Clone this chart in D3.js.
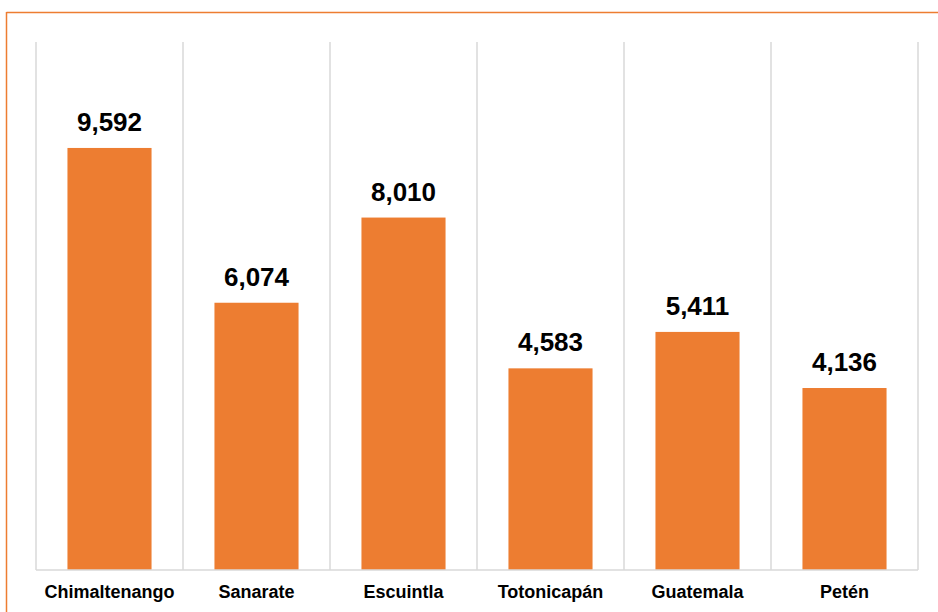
<!DOCTYPE html>
<html>
<head>
<meta charset="utf-8">
<script src="https://cdn.jsdelivr.net/npm/d3@7"></script>
<style>
  html, body { margin: 0; padding: 0; background: #fff; }
  svg { display: block; }
</style>
</head>
<body>
<svg id="chart" width="938" height="612"></svg>
<script>
const categories = ["Chimaltenango", "Sanarate", "Escuintla", "Totonicapán", "Guatemala", "Petén"];
const values = [9592, 6074, 8010, 4583, 5411, 4136];
const yDomain = [0, 12000];

(function () {
const svg = d3.select("#chart");
const W = 938, H = 612;
const pLeft = 36, pRight = 918, pTop = 42, pBottom = 570;

// outer orange frame (top and left visible)
svg.append("line").attr("x1", 6.5).attr("x2", W).attr("y1", 12.5).attr("y2", 12.5)
  .attr("stroke", "#ED7D31").attr("stroke-width", 1.5);
svg.append("line").attr("x1", 6.5).attr("x2", 6.5).attr("y1", 12).attr("y2", H)
  .attr("stroke", "#ED7D31").attr("stroke-width", 1.5);

const x = d3.scaleBand().domain(categories).range([pLeft, pRight]).paddingInner(0).paddingOuter(0);
const y = d3.scaleLinear().domain(yDomain).range([pBottom, pTop]);

// vertical category separators
const seps = categories.map(c => x(c)).concat([pRight]);
svg.append("g").selectAll("line").data(seps).join("line")
  .attr("x1", d => d).attr("x2", d => d)
  .attr("y1", pTop).attr("y2", pBottom)
  .attr("stroke", "#d9d9d9").attr("stroke-width", 1.5);

// bars
const bw = x.bandwidth() * 0.572;
svg.append("g").selectAll("rect").data(categories).join("rect")
  .attr("x", (d) => x(d) + (x.bandwidth() - bw) / 2)
  .attr("width", bw)
  .attr("y", (d, i) => y(values[i]))
  .attr("height", (d, i) => y(0) - y(values[i]))
  .attr("fill", "#ED7D31");

// baseline
svg.append("line").attr("x1", pLeft).attr("x2", pRight).attr("y1", pBottom).attr("y2", pBottom)
  .attr("stroke", "#d9d9d9").attr("stroke-width", 1.5);

// value labels
const fmt = d3.format(",");
svg.append("g").selectAll("text").data(categories).join("text")
  .attr("x", d => x(d) + x.bandwidth() / 2)
  .attr("y", (d, i) => y(values[i]) - 17)
  .attr("text-anchor", "middle")
  .attr("font-family", "Liberation Sans, Arial, sans-serif")
  .attr("font-weight", "bold")
  .attr("font-size", "26px")
  .attr("fill", "#000")
  .text((d, i) => fmt(values[i]));

// category axis
const xAxis = d3.axisBottom(x).tickSize(0).tickPadding(0);
const ax = svg.append("g").attr("transform", `translate(0,${pBottom})`).call(xAxis);
ax.select(".domain").remove();
ax.selectAll("text")
  .attr("y", 28)
  .attr("dy", 0)
  .attr("font-family", "Liberation Sans, Arial, sans-serif")
  .attr("font-weight", "bold")
  .attr("font-size", "18px")
  .attr("fill", "#000");
})();
</script>
</body>
</html>
